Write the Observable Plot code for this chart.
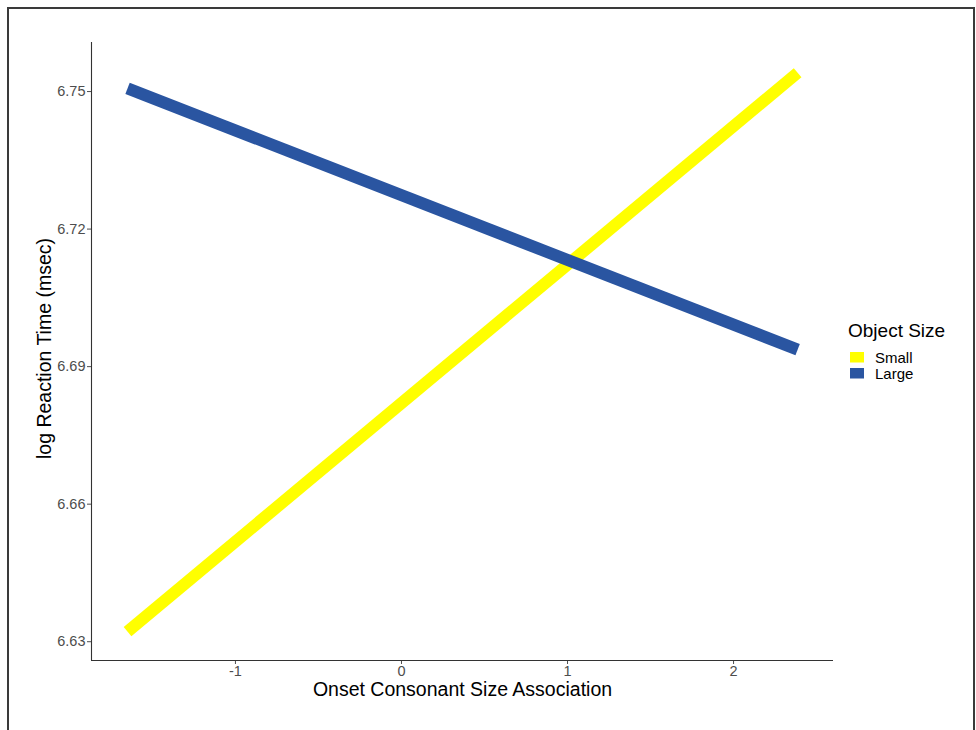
<!DOCTYPE html>
<html>
<head>
<meta charset="utf-8">
<script src="https://cdn.jsdelivr.net/npm/d3@7"></script>
<script src="https://cdn.jsdelivr.net/npm/@observablehq/plot@0.6"></script>
<style>
  html, body { margin: 0; padding: 0; background: #fff; }
  #wrap { position: relative; width: 976px; height: 730px; overflow: hidden; font-family: "Liberation Sans", Arial, sans-serif; }
  #border { position: absolute; left: 7px; top: 7px; width: 968px; height: 760px; border: 2px solid #3a3a3a; box-sizing: border-box; pointer-events: none; }
  #chart { position: absolute; left: 0; top: 0; }
  #legend { position: absolute; left: 0; top: 0; }
</style>
</head>
<body>
<div id="wrap">
  <div id="chart"></div>
  <div id="legend"></div>
  <div id="border"></div>
</div>
<script>
const sizes = ["Small", "Large"];
const sizeColors = ["#ffff00", "#2a55a1"];
const consonant = [-1.65, 2.386];
const smallRT = [6.6322, 6.7541];
const largeRT = [6.7507, 6.6937];
const xTicks = [-1, 0, 1, 2];
const yTicks = [6.63, 6.66, 6.69, 6.72, 6.75];

const rows = [];
consonant.forEach((c, i) => {
  rows.push({size: sizes[0], x: c, y: smallRT[i]});
  rows.push({size: sizes[1], x: c, y: largeRT[i]});
});

const xDomain = [-1.867, 2.602];
const yDomain = [6.6259, 6.7607];
const font = "'Liberation Sans', Arial, sans-serif";

const plot = Plot.plot({
  width: 976,
  height: 730,
  marginLeft: 91,
  marginRight: 143,
  marginTop: 42,
  marginBottom: 70,
  style: {fontFamily: font, background: "transparent"},
  x: {domain: xDomain},
  y: {domain: yDomain},
  color: {domain: sizes, range: sizeColors},
  marks: [
    Plot.axisX({ticks: xTicks, tickSize: 4, tickPadding: 1, fontSize: 14.5, color: "#4d4d4d", label: null, tickFormat: d => d < 0 ? "-" + Math.abs(d) : String(d)}),
    Plot.axisY({ticks: yTicks, tickSize: 4, tickPadding: 2, fontSize: 14.5, color: "#4d4d4d", label: null, tickFormat: d3.format(".2f")}),
    Plot.ruleX([xDomain[0]], {stroke: "#333", strokeWidth: 1.1}),
    Plot.ruleY([yDomain[0]], {stroke: "#333", strokeWidth: 1.1}),
    Plot.line(rows, {x: "x", y: "y", z: "size", stroke: "size", strokeWidth: 12, strokeLinecap: "butt", strokeLinejoin: "miter"}),
    Plot.text(["log Reaction Time (msec)"], {frameAnchor: "left", dx: -47, dy: -3, rotate: -90, fontSize: 19.5, fill: "#000", textAnchor: "middle"}),
    Plot.text(["Onset Consonant Size Association"], {frameAnchor: "bottom", dy: 35, fontSize: 19.5, fill: "#000", textAnchor: "middle"})
  ]
});
document.getElementById("chart").appendChild(plot);

const svg = d3.select("#legend").append("svg")
  .attr("width", 976).attr("height", 730)
  .style("font-family", font);
svg.append("text").attr("x", 848).attr("y", 337).attr("font-size", 19).attr("fill", "#000").text("Object Size");
sizes.forEach((s, i) => {
  svg.append("rect").attr("x", 850).attr("y", 352 + i * 16).attr("width", 14).attr("height", 10.5).attr("fill", sizeColors[i]);
  svg.append("text").attr("x", 875).attr("y", 363 + i * 16).attr("font-size", 15).attr("fill", "#000").text(s);
});
</script>
</body>
</html>
